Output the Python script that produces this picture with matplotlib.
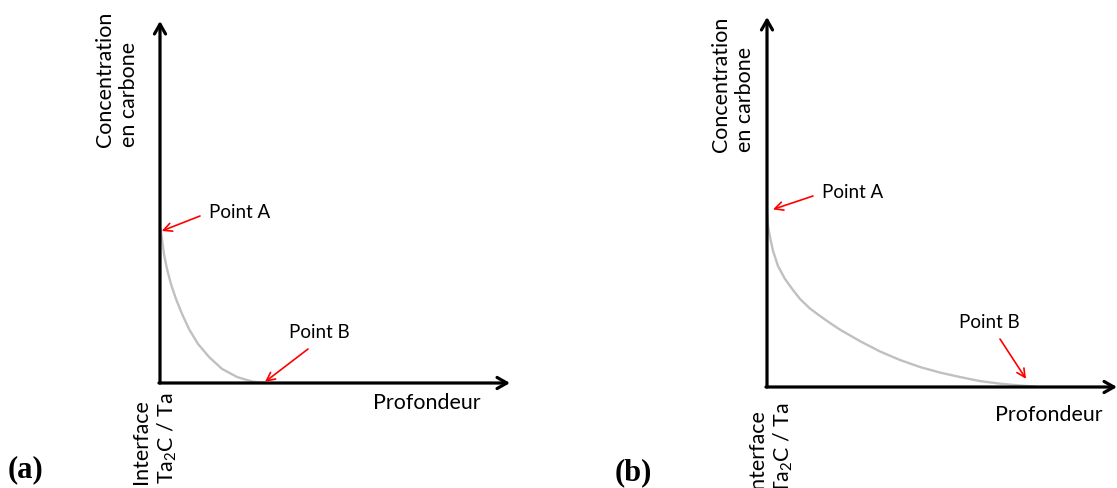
import matplotlib.pyplot as plt
import numpy as np

plt.rcParams['font.family'] = ['Lato', 'DejaVu Sans']
plt.rcParams['mathtext.default'] = 'regular'

W, H = 1117, 489

# profils de carbone (profondeur, concentration), unités relatives 0..100
prof_a = [0, 0.14, 0.57, 1.14, 2.0, 3.14, 4.57, 6.29, 8.29, 10.86, 14.0, 17.71, 22.0, 26.29, 30.0]
conc_a = [42.8, 42.5, 39.8, 35.6, 31.5, 27.3, 23.2, 19.1, 14.9, 10.8, 7.2, 3.9, 1.66, 0.41, 0.0]

prof_b = [0, 0.14, 0.43, 0.86, 1.71, 3.14, 5.14, 7.43, 9.43, 12.29, 15.14, 18.0, 20.86,
          26.57, 32.29, 38.0, 43.71, 49.43, 55.14, 60.86, 66.57, 72.29, 76.57]
conc_b = [46.8, 44.9, 42.7, 40.5, 36.8, 32.7, 29.2, 26.2, 23.8, 21.2, 19.2, 17.3, 15.5,
          12.4, 9.6, 7.3, 5.4, 3.9, 2.7, 1.6, 0.9, 0.4, 0.1]

# positions des points A et B (fin des flèches rouges), mêmes unités
point_a_a = (0.5, 42.0)
point_b_a = (30.0, 0.3)
point_a_b = (1.7, 48.0)
point_b_b = (74.0, 2.2)


def fx(px):
    return px / W


def fy(py):
    return 1 - py / H


fig = plt.figure(figsize=(W / 100, H / 100), dpi=100)


def panneau(x0, y0, largeur, hauteur, prof, conc, pa, pb, src_a, src_b):
    ax = fig.add_axes([fx(x0), fy(y0), largeur / W, hauteur / H])
    ax.set_xlim(0, 100)
    ax.set_ylim(0, 100)
    ax.axis('off')
    ax.plot(prof, conc, color='#c0c0c0', lw=1.7, solid_capstyle='round',
            solid_joinstyle='round', clip_on=False)
    # axes avec flèches
    style = dict(arrowstyle='->,head_length=0.7,head_width=0.4', color='black', lw=2.3,
                 shrinkA=0, shrinkB=0)
    ax.annotate('', xy=(0, 100), xytext=(0, 0), arrowprops=style, annotation_clip=False)
    ax.annotate('', xy=(100, 0), xytext=(-0.3, 0), arrowprops=style, annotation_clip=False)
    # flèches rouges
    rouge = dict(arrowstyle='->,head_length=0.6,head_width=0.3', color='red', lw=1.2,
                 shrinkA=0, shrinkB=0)
    ax.annotate('', xy=pa, xytext=src_a, textcoords='figure fraction',
                arrowprops=rouge, annotation_clip=False)
    ax.annotate('', xy=pb, xytext=src_b, textcoords='figure fraction',
                arrowprops=rouge, annotation_clip=False)
    return ax


panneau(160, 384, 350, 362, prof_a, conc_a, point_a_a, point_b_a,
        (fx(200), fy(217)), (fx(308), fy(350)))
panneau(767, 388, 350, 370, prof_b, conc_b, point_a_b, point_b_b,
        (fx(813), fy(197)), (fx(1000), fy(340)))

fs = 15.4
fp = 13.5
# panneau (a)
fig.text(fx(209), fy(213), 'Point A', fontsize=fp, va='center', ha='left')
fig.text(fx(289), fy(333), 'Point B', fontsize=fp, va='center', ha='left')
fig.text(fx(117), fy(147), 'Concentration\nen carbone', rotation=90, fontsize=fs,
         ha='center', va='bottom', multialignment='left', linespacing=1.3)
fig.text(fx(155), fy(393), 'Interface\nTa$_2$C / Ta', rotation=90, fontsize=fs,
         ha='center', va='top', multialignment='left', linespacing=1.3)
fig.text(fx(373), fy(403), 'Profondeur', fontsize=fs, ha='left', va='center')
fig.text(fx(8), fy(470), '(a)', fontsize=22, fontweight='bold',
         family='Liberation Serif', ha='left', va='center')

# panneau (b)
fig.text(fx(822), fy(193), 'Point A', fontsize=fp, va='center', ha='left')
fig.text(fx(959), fy(323), 'Point B', fontsize=fp, va='center', ha='left')
fig.text(fx(733), fy(152), 'Concentration\nen carbone', rotation=90, fontsize=fs,
         ha='center', va='bottom', multialignment='left', linespacing=1.3)
fig.text(fx(771), fy(403), 'Interface\nTa$_2$C / Ta', rotation=90, fontsize=fs,
         ha='center', va='top', multialignment='left', linespacing=1.3)
fig.text(fx(995), fy(415), 'Profondeur', fontsize=fs, ha='left', va='center')
fig.text(fx(615), fy(473), '(b)', fontsize=22, fontweight='bold',
         family='Liberation Serif', ha='left', va='center')

fig.savefig('out.png', dpi=100)
